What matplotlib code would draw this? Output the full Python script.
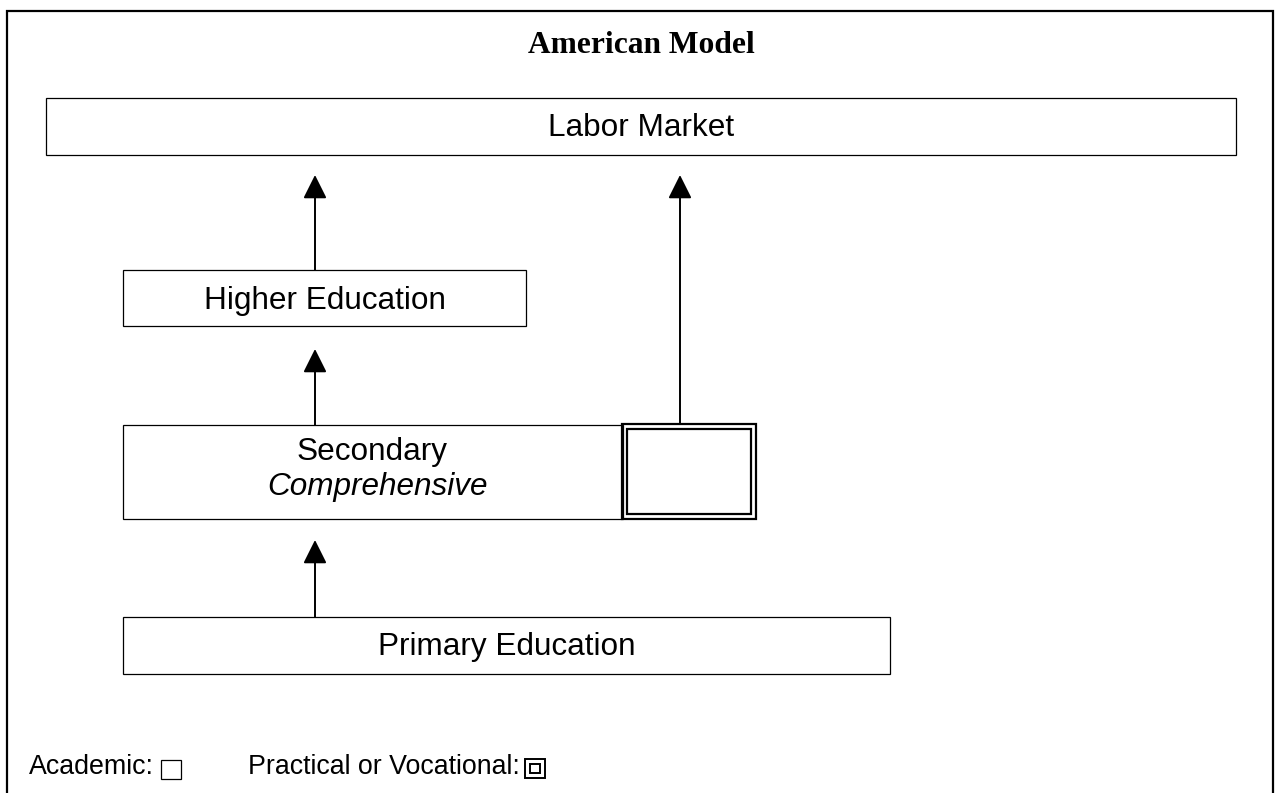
import matplotlib
matplotlib.use("Agg")
import matplotlib.pyplot as plt
from matplotlib.patches import Rectangle

# --- content ---
title = "American Model"
box_labels = ["Labor Market", "Higher Education", "Primary Education"]
secondary_label = ["Secondary", "Comprehensive"]
legend_labels = ["Academic:", "Practical or Vocational:"]

# --- layout (pixel coordinates, y downwards) ---
W, H = 1276, 793
boxes = [  # x0, y0, x1, y1
    (46, 98, 1236, 155),
    (123, 270, 526, 326),
    (123, 617, 890, 674),
]
baselines = [136, 309, 655]
secondary_box = (123, 425, 623, 519)
voc_outer = (622, 424, 756, 519)
voc_inner = (627, 429, 751, 514)
arrows = [  # x, y_start, y_tip
    (315, 270, 175),
    (315, 425, 349),
    (315, 617, 540),
    (680, 424, 175),
]

fig = plt.figure(figsize=(W / 100, H / 100), dpi=100)
ax = fig.add_axes([0, 0, 1, 1])
ax.set_xlim(0, W)
ax.set_ylim(H, 0)
ax.axis("off")

sans = "Liberation Sans"
serif = "Liberation Serif"
FS = 22.7

# outer frame (no bottom edge visible)
ax.plot([7, 7, 1273, 1273], [H + 5, 11, 11, H + 5], color="black", lw=1.6,
        solid_joinstyle="miter")

ax.text(641, 53, title, ha="center", va="baseline", fontsize=22.7,
        fontweight="bold", family=serif)


def rect(x0, y0, x1, y1, lw=0.9):
    ax.add_patch(Rectangle((x0, y0), x1 - x0, y1 - y0, fill=False,
                           edgecolor="black", lw=lw, joinstyle="miter"))


for (x0, y0, x1, y1), lab, bl in zip(boxes, box_labels, baselines):
    rect(x0, y0, x1, y1)
    ax.text((x0 + x1) / 2, bl, lab, ha="center", va="baseline",
            fontsize=FS, family=sans)

rect(*secondary_box)
sx = (secondary_box[0] + secondary_box[2]) / 2
ax.text(sx - 1, 460, secondary_label[0], ha="center", va="baseline", fontsize=FS,
        family=sans)
ax.text(sx + 5, 495, secondary_label[1], ha="center", va="baseline", fontsize=FS,
        family=sans, style="italic")
rect(*voc_outer, lw=1.6)
rect(*voc_inner, lw=1.6)

for x, y0, y1 in arrows:
    ax.annotate("", xy=(x, y1), xytext=(x, y0),
                arrowprops=dict(arrowstyle="-|>,head_length=1.0,head_width=0.5",
                                color="black", lw=1.4, shrinkA=0, shrinkB=0,
                                mutation_scale=14.5))

# legend
ax.text(29, 774, legend_labels[0], ha="left", va="baseline", fontsize=19.3,
        family=sans)
rect(161, 760, 181, 779)
ax.text(248, 774, legend_labels[1], ha="left", va="baseline", fontsize=19.3,
        family=sans)
rect(525, 759, 545, 778, lw=1.4)
rect(530, 764, 540, 773, lw=1.4)

fig.savefig("out.png", dpi=100)
